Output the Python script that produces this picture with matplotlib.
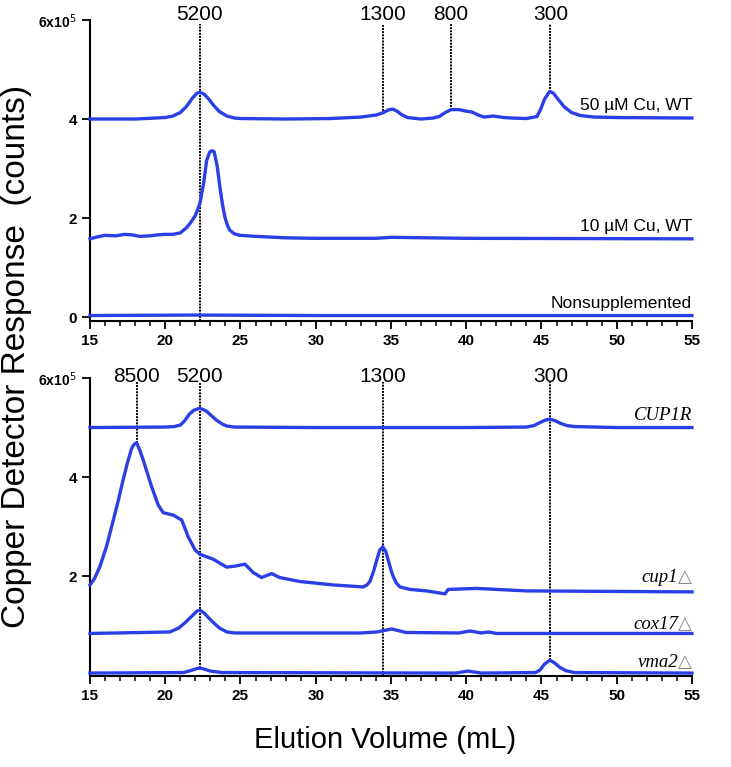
import numpy
from matplotlib import pyplot as plt

plt.rcParams["font.family"] = ["Liberation Sans", "DejaVu Sans"]

# elution volume (mL) and copper response (x1e5 counts)
wt50_vol = [15, 18, 20, 20.5, 21.0, 21.4, 21.8, 22.1, 22.3, 22.6, 22.9, 23.2, 23.6, 24.1, 24.6, 25, 28, 31, 33,
            34.0, 34.5, 34.8, 35.1, 35.4, 35.7, 36.1, 37, 37.8, 38.2, 38.6, 39.0, 39.5, 40.0, 40.4, 40.8, 41.2,
            41.8, 42.5, 43, 44, 44.7, 44.95, 45.2, 45.55, 45.8, 46.1, 46.5, 47.0, 47.6, 48.5, 50, 55]
wt50_cnt = [4.00, 4.00, 4.03, 4.06, 4.13, 4.25, 4.42, 4.52, 4.54, 4.50, 4.40, 4.28, 4.15, 4.06, 4.02, 4.01, 4.00,
            4.01, 4.04, 4.08, 4.13, 4.18, 4.20, 4.16, 4.09, 4.03, 4.00, 4.02, 4.05, 4.13, 4.19, 4.19, 4.16, 4.14,
            4.08, 4.04, 4.06, 4.03, 4.02, 4.01, 4.05, 4.20, 4.40, 4.56, 4.52, 4.40, 4.25, 4.13, 4.07, 4.04, 4.03,
            4.02]

wt10_vol = [15, 15.5, 16, 16.7, 17.3, 17.8, 18.3, 19, 19.5, 20, 20.5, 21.0, 21.4, 21.65, 22.0, 22.3, 22.55,
            22.75, 22.95, 23.1, 23.25, 23.45, 23.64, 23.8, 23.97, 24.15, 24.3, 24.6, 24.97, 26, 28, 30, 34, 35,
            40, 55]
wt10_cnt = [1.58, 1.62, 1.65, 1.64, 1.67, 1.66, 1.63, 1.64, 1.66, 1.67, 1.67, 1.70, 1.80, 1.89, 2.05, 2.29, 2.70,
            3.16, 3.33, 3.36, 3.34, 3.05, 2.61, 2.28, 2.01, 1.84, 1.75, 1.68, 1.65, 1.63, 1.60, 1.59, 1.59, 1.61,
            1.59, 1.58]

nonsup_vol = [15, 22, 30, 40, 55]
nonsup_cnt = [0.03, 0.04, 0.03, 0.03, 0.03]

cup1r_vol = [15, 20, 20.6, 21.0, 21.3, 21.6, 21.9, 22.3, 22.7, 23.0, 23.4, 23.8, 24.1, 24.6, 30, 40, 44.0, 44.5,
             44.9, 45.25, 45.55, 45.9, 46.3, 46.7, 47.2, 50, 55]
cup1r_cnt = [5.00, 5.01, 5.02, 5.05, 5.14, 5.27, 5.35, 5.39, 5.34, 5.26, 5.15, 5.07, 5.03, 5.01, 5.00, 5.00, 5.01,
             5.04, 5.10, 5.15, 5.17, 5.14, 5.08, 5.04, 5.02, 5.00, 5.00]

cup1_vol = [15, 15.3, 15.66, 16.1, 16.55, 16.9, 17.2, 17.5, 17.77, 17.95, 18.1, 18.3, 18.54, 19.1, 19.54, 19.87,
            20.54, 21.1, 21.53, 21.98, 22.3, 23.19, 24.08, 24.63, 25.3, 25.85, 26.4, 27.07, 27.6, 28.95, 31.17,
            33.16, 33.4, 33.6, 33.85, 34.05, 34.25, 34.45, 34.65, 34.82, 35.0, 35.15, 35.35, 35.6, 36.26, 37.37,
            38.59, 38.8, 40.7, 44.0, 55]
cup1_cnt = [1.82, 1.95, 2.19, 2.60, 3.13, 3.55, 3.94, 4.30, 4.58, 4.67, 4.69, 4.55, 4.34, 3.80, 3.43, 3.28, 3.23,
            3.13, 2.79, 2.53, 2.44, 2.34, 2.18, 2.20, 2.24, 2.07, 1.97, 2.05, 1.97, 1.89, 1.82, 1.78, 1.82, 1.89,
            2.10, 2.32, 2.52, 2.59, 2.50, 2.32, 2.12, 1.99, 1.86, 1.78, 1.73, 1.70, 1.64, 1.73, 1.75, 1.70, 1.68]

cox17_vol = [15, 20.3, 20.9, 21.4, 21.8, 22.1, 22.3, 22.6, 22.9, 23.2, 23.6, 24.1, 24.6, 33, 34.05, 35.05, 36,
             39.5, 40.25, 41, 41.5, 42, 55]
cox17_cnt = [0.84, 0.87, 0.95, 1.08, 1.20, 1.29, 1.31, 1.25, 1.15, 1.06, 0.95, 0.87, 0.85, 0.85, 0.87, 0.93, 0.86,
             0.85, 0.89, 0.85, 0.87, 0.84, 0.84]

vma2_vol = [15, 21.2, 21.7, 22.1, 22.3, 22.6, 23.0, 23.8, 39.3, 40.1, 41, 44.6, 44.9, 45.2, 45.55, 45.85, 46.2,
            46.6, 47.2, 55]
vma2_cnt = [0.04, 0.05, 0.09, 0.13, 0.14, 0.12, 0.08, 0.05, 0.04, 0.08, 0.04, 0.05, 0.10, 0.22, 0.30, 0.25, 0.16,
            0.09, 0.05, 0.04]

# molecular weight standards: label, volume, response where the guide stops
top_std = ["5200", "1300", "800", "300"]
top_std_vol = [22.3, 34.45, 38.97, 45.6]
top_std_end = [-0.08, 4.10, 4.19, 4.55]

bot_std = ["8500", "5200", "1300", "300"]
bot_std_vol = [18.1, 22.3, 34.45, 45.6]
bot_std_end = [4.69, 0.14, -0.02, 0.30]

top_traces = [(wt50_vol, wt50_cnt, "50 µM Cu, WT", 4.19),
              (wt10_vol, wt10_cnt, "10 µM Cu, WT", 1.73),
              (nonsup_vol, nonsup_cnt, "Nonsupplemented", 0.18)]
bot_traces = [(cup1r_vol, cup1r_cnt, "CUP1R", False, 5.15),
              (cup1_vol, cup1_cnt, "cup1", True, 1.88),
              (cox17_vol, cox17_cnt, "cox17", True, 0.94),
              (vma2_vol, vma2_cnt, "vma2", True, 0.17)]

LINE = "#2B3FE6"


def style_axis(ax, ymin, yticks, ylabels):
    ax.set_xlim(15, 55)
    ax.set_ylim(ymin, 6)
    ax.spines["top"].set_visible(False)
    ax.spines["right"].set_visible(False)
    ax.spines["left"].set_linewidth(1.5)
    ax.spines["bottom"].set_linewidth(1.5)
    ax.set_xticks(numpy.arange(15, 56, 5))
    ax.set_xticks(numpy.arange(15, 56, 1), minor=True)
    ax.set_yticks(yticks)
    ax.set_yticklabels(ylabels)
    ax.tick_params(axis="both", which="major", direction="out", length=6, width=1.3)
    ax.tick_params(axis="x", which="minor", direction="out", length=3.5, width=1.1)
    ax.tick_params(axis="y", which="minor", left=False)
    for lab in ax.get_xticklabels() + ax.get_yticklabels():
        lab.set_fontweight("bold")
        lab.set_fontsize(11)
    ax.get_yticklabels()[-1].set_fontsize(10)


def draw_standards(ax, names, vols, ends, label_y):
    for name, vol, end in zip(names, vols, ends):
        ax.plot([vol, vol], [end, 5.92], ls=(0, (1.0, 0.6)), color="black", lw=1.4, zorder=1, clip_on=False)
        ax.text(vol, label_y, name, ha="center", va="baseline", fontsize=15)


fig = plt.figure(figsize=(7.31, 7.67), dpi=100)
ax1 = fig.add_axes([0.1231, 0.5815, 0.8235, 0.3924])
ax2 = fig.add_axes([0.1231, 0.1186, 0.8235, 0.3885])

for vol, cnt, label, base in top_traces:
    ax1.plot(vol, cnt, color=LINE, lw=2.4, zorder=3, clip_on=False, solid_joinstyle="round")
    ax1.text(55, base, label, ha="right", va="baseline", fontsize=12.5)
draw_standards(ax1, top_std, top_std_vol, top_std_end, 6.0)
style_axis(ax1, -0.08, [0, 2, 4, 6], ["0", "2", "4", r"6x10$^5$"])

for vol, cnt, label, delta, base in bot_traces:
    ax2.plot(vol, cnt, color=LINE, lw=2.4, zorder=3, clip_on=False, solid_joinstyle="round")
    if delta:
        ax2.text(55, base, "\u25b3", ha="right", va="baseline", fontsize=13, color="#888888",
                 family=["DejaVu Sans"])
        ax2.annotate(label, xy=(55, base), xytext=(-10, 0), textcoords="offset points", ha="right",
                     va="baseline", fontsize=13.5, style="italic", family=["Liberation Serif"])
    else:
        ax2.text(55, base, label, ha="right", va="baseline", fontsize=13.5, style="italic",
                 family=["Liberation Serif"])
draw_standards(ax2, bot_std, bot_std_vol, bot_std_end, 5.93)
style_axis(ax2, -0.02, [2, 4, 6], ["2", "4", r"6x10$^5$"])

fig.text(0.023, 0.535, "Copper Detector Response  (counts)", rotation=90, ha="center", va="center", fontsize=24)
fig.text(0.527, 0.035, "Elution Volume (mL)", ha="center", va="center", fontsize=21)

fig.savefig("out.png", dpi=100)
